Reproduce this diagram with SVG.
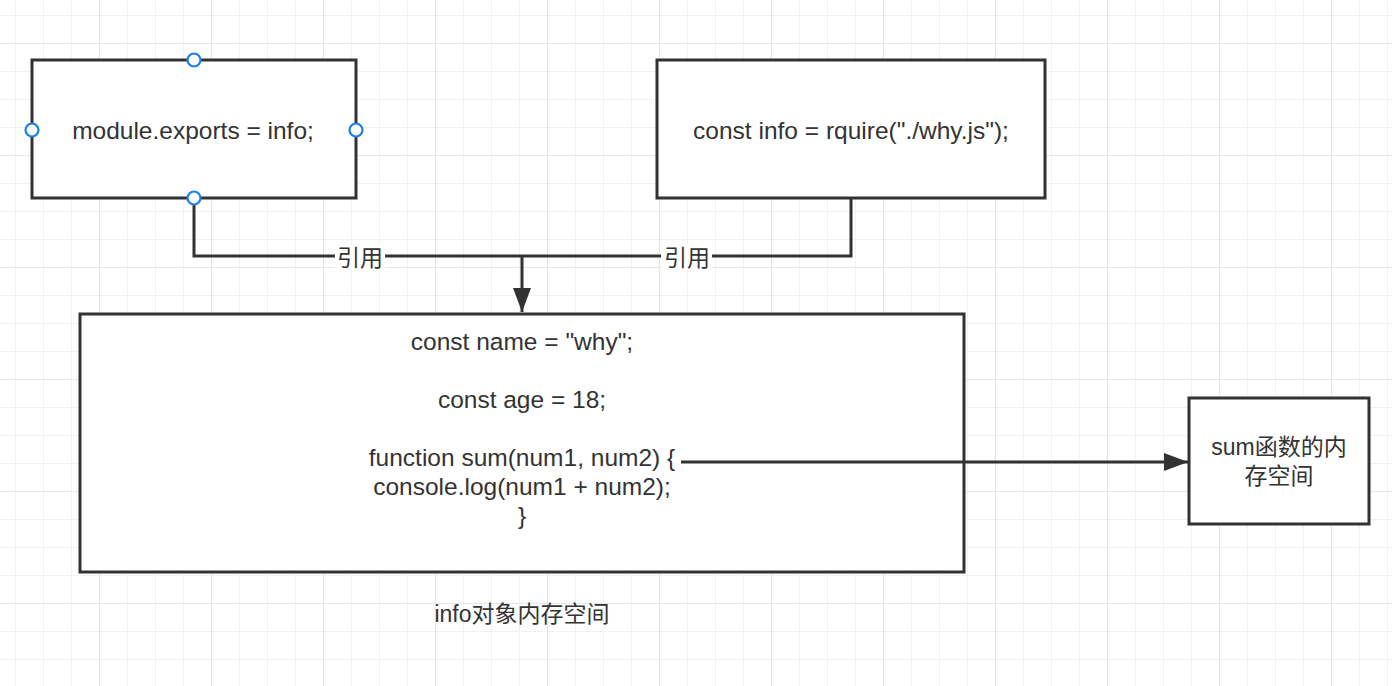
<svg xmlns="http://www.w3.org/2000/svg" width="1392" height="686" viewBox="0 0 1392 686">
  <style>
    .box { fill: #ffffff; stroke: #323232; stroke-width: 3; }
    .txt { font-family: "Liberation Sans", "Noto Sans CJK SC", sans-serif; font-size: 24.5px; fill: #333333; text-anchor: middle; }
    .cjk { font-family: "Liberation Sans", "Noto Sans CJK SC", sans-serif; font-size: 23px; fill: #333333; text-anchor: middle; }
    .wire { fill: none; stroke: #323232; stroke-width: 3; }
    .port { fill: #ffffff; stroke: #1a7fe8; stroke-width: 2.2; }
    .lblbg { fill: #ffffff; }
  </style>
  <defs>
    <pattern id="grid" x="15" y="15" width="112" height="112" patternUnits="userSpaceOnUse">
      <path d="M0.5,0 V112 M28.5,0 V112 M56.5,0 V112" stroke="#f2f2f2" stroke-width="1" fill="none"/>
      <path d="M0,0.5 H112 M0,56.5 H112 M0,84.5 H112" stroke="#f2f2f2" stroke-width="1" fill="none"/>
      <path d="M84.5,0 V112" stroke="#e7e7e7" stroke-width="1.2" fill="none"/>
      <path d="M0,28.5 H112" stroke="#e7e7e7" stroke-width="1.2" fill="none"/>
    </pattern>
    <marker id="arrow" viewBox="0 0 24 18" refX="24" refY="9" markerWidth="24" markerHeight="18" markerUnits="userSpaceOnUse" orient="auto">
      <path d="M0,0 L24,9 L0,18 Z" fill="#323232"/>
    </marker>
  </defs>

  <rect x="0" y="0" width="1392" height="686" fill="#ffffff"/>
  <rect x="0" y="0" width="1392" height="686" fill="url(#grid)"/>

  <g id="node-exports">
    <rect class="box" x="32" y="60" width="324" height="138"/>
    <text class="txt" x="193" y="139">module.exports = info;</text>
  </g>

  <g id="node-require">
    <rect class="box" x="657" y="60" width="388" height="138"/>
    <text class="txt" x="851" y="139">const info = rquire("./why.js");</text>
  </g>

  <g id="node-info">
    <rect class="box" x="80" y="314" width="884" height="258"/>
    <text class="txt" x="522" y="350">const name = "why";</text>
    <text class="txt" x="522" y="408">const age = 18;</text>
    <text class="txt" x="522" y="466">function sum(num1, num2) {</text>
    <text class="txt" x="522" y="495">console.log(num1 + num2);</text>
    <text class="txt" x="522" y="524">}</text>
  </g>

  <g id="label-info">
    <text class="cjk" x="522" y="622">info对象内存空间</text>
  </g>

  <g id="node-sum">
    <rect class="box" x="1189" y="398" width="180" height="126"/>
    <text class="cjk" x="1279" y="455">sum函数的内</text>
    <text class="cjk" x="1279" y="484">存空间</text>
  </g>

  <g id="connectors">
    <path class="wire" d="M194,198 V256 H522"/>
    <path class="wire" d="M851,198 V256 H522"/>
    <path class="wire" d="M522,256 V312" marker-end="url(#arrow)"/>
    <path class="wire" d="M681,462 H1188" marker-end="url(#arrow)"/>
    <g id="label-ref-left">
      <rect class="lblbg" x="335" y="245" width="50" height="24"/>
      <text class="cjk" x="360" y="266">引用</text>
    </g>
    <g id="label-ref-right">
      <rect class="lblbg" x="661" y="245" width="51" height="24"/>
      <text class="cjk" x="687" y="266">引用</text>
    </g>
  </g>

  <g id="ports">
    <circle class="port" cx="194" cy="60" r="6.5"/>
    <circle class="port" cx="32" cy="130" r="6.5"/>
    <circle class="port" cx="356" cy="130" r="6.5"/>
    <circle class="port" cx="194" cy="198" r="6.5"/>
  </g>
</svg>
